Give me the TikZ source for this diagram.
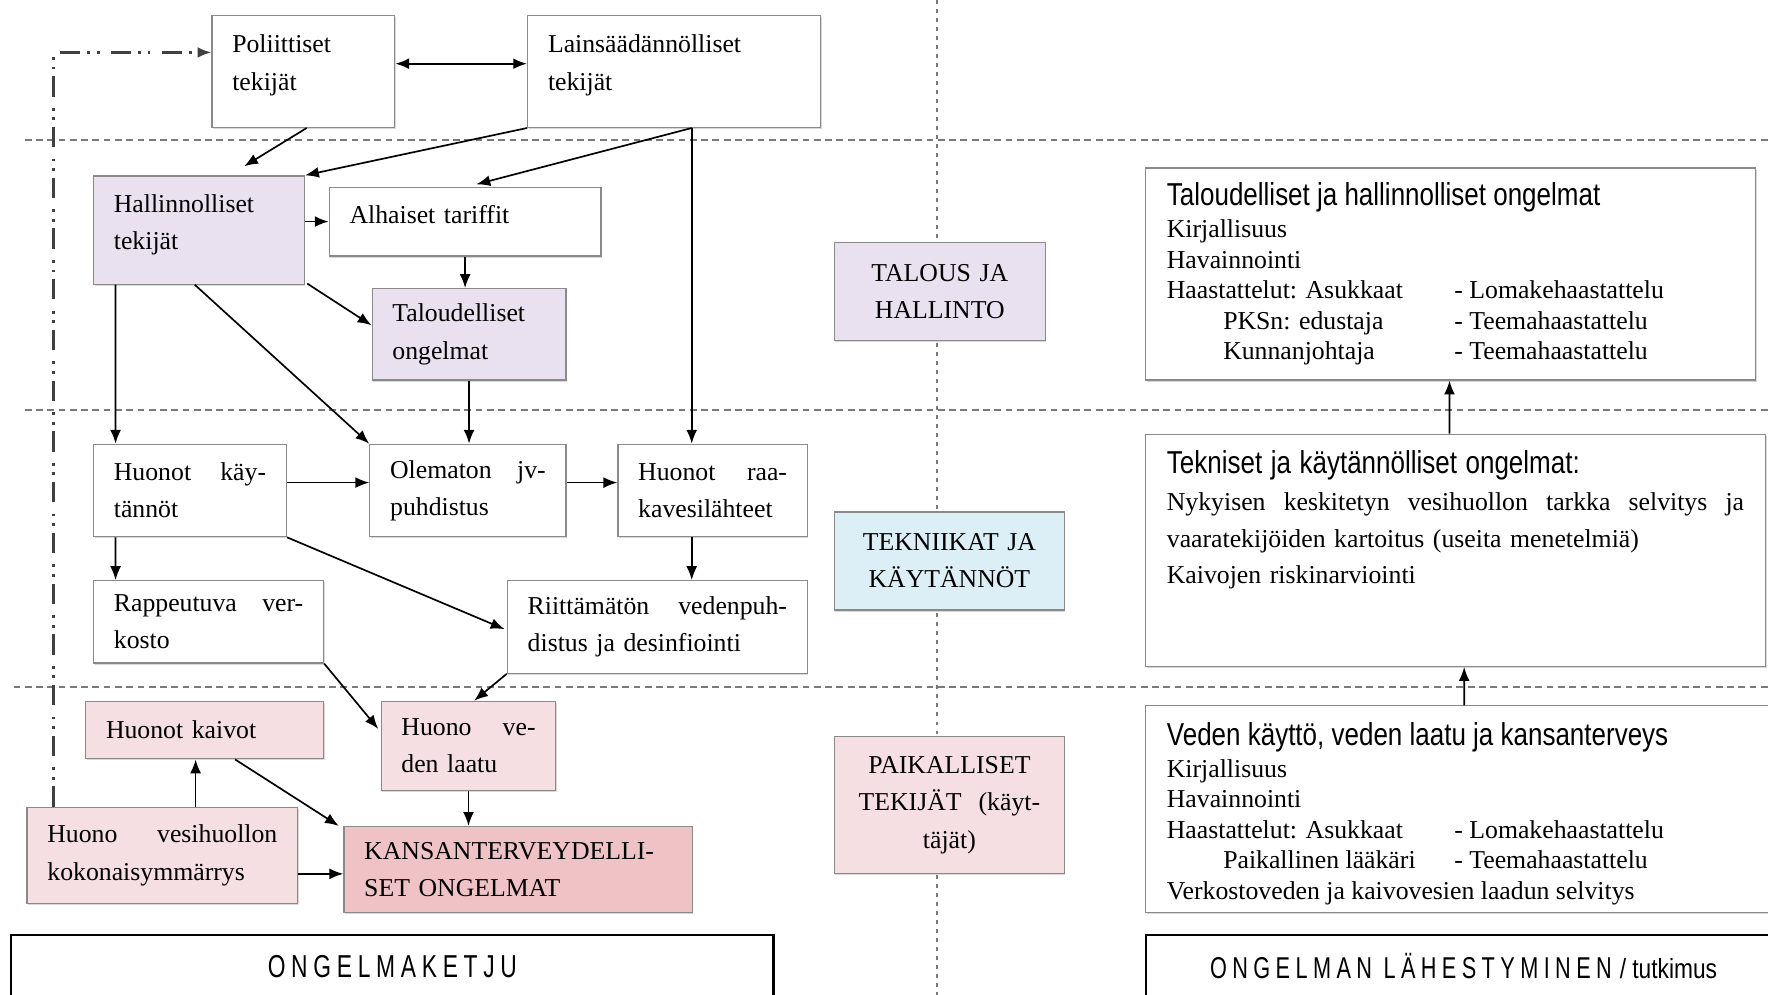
\documentclass[tikz,border=0pt]{standalone}
\usepackage{fontspec}
\setmainfont{Liberation Serif}
\newfontfamily\narrowsf[FakeStretch=0.82]{Liberation Sans}
\newfontfamily\spacedsf[FakeStretch=0.72,LetterSpace=18]{Liberation Sans}
\usetikzlibrary{arrows.meta,positioning,calc,shadows}
\definecolor{boxgray}{HTML}{8A8A8A}
\definecolor{lavender}{HTML}{E9E1EF}
\definecolor{pinklight}{HTML}{F6DFE2}
\definecolor{pinkdark}{HTML}{EFC2C6}
\definecolor{lightblue}{HTML}{DDEFF6}
\definecolor{linegray}{HTML}{7A7A7A}
\newcommand{\jfill}{\hskip 0pt plus 1fill\relax}
\newcommand{\lift}[1]{\\[#1]\mbox{}}
\tikzset{
  box/.style={draw=boxgray, fill=white, line width=0.6pt, align=left, inner xsep=0.36cm,
    font=\fontsize{13}{18.8}\selectfont,
    drop shadow={shadow xshift=0.5pt, shadow yshift=-0.8pt, fill=black!30}},
  midbox/.style={box, align=center},
  bigbox/.style={draw=boxgray, fill=white, line width=0.6pt,
    drop shadow={shadow xshift=0.5pt, shadow yshift=-0.8pt, fill=black!30}},
  boxtext/.style={anchor=north west, inner sep=0pt, align=left},
  titlebox/.style={draw=black, line width=1.1pt, fill=white, font=\fontsize{16}{16}\selectfont},
  conn/.style={->, line width=0.85pt},
  bandline/.style={linegray, line width=1pt, dash pattern=on 0.12cm off 0.08cm},
  dotline/.style={linegray, line width=1pt, dash pattern=on 0.07cm off 0.09cm},
}
\begin{document}
\begin{tikzpicture}[x=0.02cm, y=-0.02cm, >={Latex[length=7pt,width=5.5pt]}]
\useasboundingbox (0,0) rectangle (1568,882);
\clip (0,0) rectangle (1568,882);

\draw[dotline] (831,0) -- (831,882);
\draw[bandline] (22,124) -- (1568,124);
\draw[bandline] (22,364) -- (1568,364);
\draw[bandline] (12,609) -- (1568,609);

\node[box, text width=2.52cm, minimum height=1.98cm] (pol) at (269,63.5) {Poliittiset\\tekijät\lift{-0.34cm}};
\node[box, text width=4.48cm, minimum height=1.98cm] (lain) at (598,63.5) {Lainsäädännölliset\\tekijät\lift{-0.34cm}};
\node[box, fill=lavender, text width=3.02cm, minimum height=1.92cm] (hal) at (176.5,204) {Hallinnolliset\\tekijät\lift{-0.38cm}};
\node[box, text width=4.1cm, minimum height=1.22cm] (alh) at (412.5,196.5) {Alhaiset tariffit\lift{-0.4cm}};
\node[box, fill=lavender, text width=2.72cm, minimum height=1.62cm] (tal) at (416,296.5) {Taloudelliset\\ongelmat};
\node[box, text width=2.7cm, minimum height=1.64cm] (huk) at (168.5,435) {Huonot\jfill käy-\\tännöt};
\node[box, text width=2.76cm, minimum height=1.64cm] (ole) at (415,435) {Olematon\jfill jv-\\puhdistus};
\node[box, text width=2.64cm, minimum height=1.64cm] (raak) at (632,435) {Huonot\jfill raa-\\kavesilähteet};
\node[box, text width=3.36cm, minimum height=1.46cm] (rap) at (185,551.5) {Rappeutuva\jfill ver-\\kosto};
\node[box, text width=4.6cm, minimum height=1.64cm] (rii) at (583,556) {Riittämätön\jfill vedenpuh-\\distus ja desinfiointi};
\node[box, fill=pinklight, text width=3.5cm, minimum height=1.02cm] (hka) at (181.5,647.5) {Huonot kaivot};
\node[box, fill=pinklight, text width=2.38cm, minimum height=1.58cm] (hvl) at (415.5,661.5) {Huono\jfill ve-\\den laatu};
\node[box, fill=pinklight, text width=4.08cm, minimum height=1.7cm] (hvk) at (144,758.5) {Huono\jfill vesihuollon\\kokonaisymmärrys};
\node[box, fill=pinkdark, text width=5.46cm, minimum height=1.52cm] (kan) at (459.5,771) {KANSANTERVEYDELLI-\\SET ONGELMAT};

\node[midbox, fill=lavender, text width=3.02cm, minimum height=1.74cm] (talh) at (833.5,258.5) {TALOUS JA\\HALLINTO};
\node[midbox, fill=lightblue, text width=3.36cm, minimum height=1.74cm] (tek) at (842,497.5) {TEKNIIKAT JA\\KÄYTÄNNÖT};
\node[midbox, fill=pinklight, inner xsep=0.43cm, text width=3.22cm, minimum height=2.44cm] (paik) at (842,714) {PAIKALLISET\\TEKIJÄT\jfill (käyt-\\täjät)};

\node[bigbox, minimum width=10.82cm, minimum height=3.76cm] (r1) at (1286.5,243) {};
\node[bigbox, minimum width=11cm, minimum height=4.12cm] (r2) at (1291,488) {};
\node[bigbox, minimum width=11.28cm, minimum height=3.66cm] (r3) at (1298,717.5) {};

\node[boxtext, font=\fontsize{13}{15.4}\selectfont] (r1t) at ($(r1.north west)+(19,13)$) {%
{\narrowsf\fontsize{16}{15}\selectfont Taloudelliset ja hallinnolliset ongelmat}\\[1pt]
Kirjallisuus\\
Havainnointi\\
\makebox[5.1cm][l]{Haastattelut: Asukkaat}- Lomakehaastattelu\\
\hspace*{1cm}\makebox[4.1cm][l]{PKSn: edustaja}- Teemahaastattelu\\
\hspace*{1cm}\makebox[4.1cm][l]{Kunnanjohtaja}- Teemahaastattelu};
\node[boxtext, text width=10.24cm, font=\fontsize{13}{18.5}\selectfont] (r2t) at ($(r2.north west)+(19,15)$) {%
{\narrowsf\fontsize{16}{15}\selectfont Tekniset ja käytännölliset ongelmat:}\\
Nykyisen\jfill keskitetyn\jfill vesihuollon\jfill tarkka\jfill selvitys\jfill ja\\
vaaratekijöiden kartoitus (useita menetelmiä)\\
Kaivojen riskinarviointi};
\node[boxtext, font=\fontsize{13}{15.4}\selectfont] (r3t) at ($(r3.north west)+(19,15)$) {%
{\narrowsf\fontsize{16}{15}\selectfont Veden käyttö, veden laatu ja kansanterveys}\\[0.5pt]
Kirjallisuus\\
Havainnointi\\
\makebox[5.1cm][l]{Haastattelut: Asukkaat}- Lomakehaastattelu\\
\hspace*{1cm}\makebox[4.1cm][l]{Paikallinen lääkäri}- Teemahaastattelu\\
Verkostoveden ja kaivovesien laadun selvitys};

\node[titlebox, minimum width=13.52cm, minimum height=1.12cm] (ket) at (348,857) {\spacedsf ONGELMAKETJU};
\node[titlebox, minimum width=11.28cm, minimum height=1.12cm] (lah) at (1298,857) {{\spacedsf\fontsize{15.2}{15}\selectfont ONGELMAN LÄHESTYMINEN} {\narrowsf\fontsize{14}{15}\selectfont / tutkimus}};

\coordinate (lsplit) at ($(lain.south west)+(146,0)$);
\coordinate (dstart) at ($(hvk.north west)+(24,0)$);
\coordinate (hkx) at ($(hka.south)+(-8,0)$);

\draw[<->, line width=1.1pt] ($(pol.east)+(0,-7)$) -- ($(lain.west)+(0,-7)$);
\draw[->, black!75, line width=1.1pt, dash pattern=on 0.36cm off 0.12cm on 0.05cm off 0.12cm on 0.05cm off 0.2cm] (dstart) |- ($(pol.west)+(0,-17)$);
\draw[conn] ($(pol.south)+(3,0)$) -- ($(hal.north)+(40,-8)$);
\draw[conn] (lain.south west) -- (hal.north east);
\draw[conn] (lsplit) -- ($(alh.north)+(10,-2)$);
\draw[conn] (lsplit) -- (lsplit |- raak.north);
\draw[conn] (hal.east |- alh.west) -- (alh.west);
\draw[conn] (alh.south) -- (alh.south |- tal.north);
\draw[conn] ($(hal.south east)+(2,-1)$) -- ($(tal.west)+(0,-8)$);
\draw[conn] ($(hal.south west)!0.48!(hal.south east)$) -- (ole.north west);
\draw[conn] ($(hal.south west)+(20,0)$) -- ($(huk.north west)+(20,0)$);
\draw[conn] (tal.south) -- (tal.south |- ole.north);
\draw[conn] ($(huk.east)+(0,-7)$) -- ($(ole.west)+(0,-7)$);
\draw[conn] ($(ole.east)+(0,-7)$) -- ($(raak.west)+(0,-7)$);
\draw[conn] ($(huk.south west)+(20,0)$) -- ($(rap.north west)+(20,0)$);
\draw[conn] (huk.south east) -- ($(rii.west)+(-2,2)$);
\draw[conn] (lsplit |- raak.south) -- (lsplit |- rii.north);
\draw[conn] (rap.south east) -- ($(hvl.west)+(-2,-15)$);
\draw[conn] (rii.south west) -- ($(hvl.north)+(5,0)$);
\draw[conn] (hkx |- hvk.north) -- (hkx);
\draw[conn] ($(hka.south)+(27,0)$) -- ($(kan.north west)+(-4,0)$);
\draw[conn] (hvl.south) -- (hvl.south |- kan.north);
\draw[conn] ($(hvk.east |- kan.west)+(0,4)$) -- ($(kan.west)+(0,4)$);
\draw[conn] ($(r2.north west)+(270,0)$) -- ($(r1.south west)+(270,0)$);
\draw[conn] ($(r3.north west)+(283,0)$) -- ($(r2.south west)+(283,0)$);
\end{tikzpicture}
\end{document}
